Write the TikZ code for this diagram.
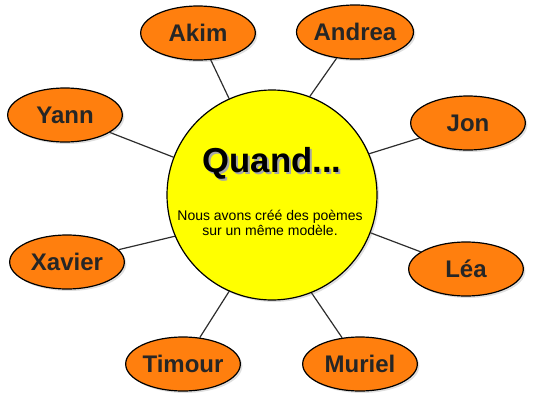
\documentclass[tikz,border=0pt]{standalone}
\usepackage{fontspec}
\setmainfont{Liberation Sans}
\usetikzlibrary{shapes.geometric,shadows,backgrounds}

\definecolor{nameorange}{RGB}{255,127,14}
\definecolor{quandyellow}{RGB}{255,255,0}
\definecolor{nametext}{RGB}{38,38,38}
\definecolor{linkgray}{RGB}{45,45,45}

\begin{document}
\begin{tikzpicture}[x=0.75pt,y=0.75pt,yscale=-1,xscale=1,
  namebox/.style={ellipse,draw=black,line width=0.9pt,fill=nameorange,
    minimum width=86pt,minimum height=40.5pt,inner sep=0pt,
    text=nametext,font=\fontsize{18}{20}\selectfont\bfseries,
    drop shadow={shadow xshift=1.5pt,shadow yshift=-1.5pt,opacity=0.25}},
  centrebox/.style={circle,draw=black,line width=0.9pt,fill=quandyellow,
    minimum size=157.5pt,inner sep=0pt,
    drop shadow={shadow xshift=1.5pt,shadow yshift=-1.5pt,opacity=0.25}},
  link/.style={draw=linkgray,line width=0.9pt}]
\useasboundingbox (0,0) rectangle (536,400);

% Centre
\node [centrebox] (quand) at (272,195) {};
\node [anchor=base,inner sep=0pt,font=\fontsize{26}{28}\selectfont\bfseries] (quandtitle) at (272,172)
  {\makebox[0pt][l]{\hspace{1.6pt}\raisebox{-1.6pt}{\color{black!35}Quand...}}Quand...};
\node [anchor=base,inner sep=0pt,align=center,font=\fontsize{10.5}{11.25}\selectfont] (quandtext) at (270,235)
  {Nous avons créé des poèmes\\sur un même modèle.};

% Names
\node [namebox] (akim) at (198,33) {Akim};
\node [namebox] (andrea) at (355,32) {Andrea};
\node [namebox] (yann) at (65,115) {Yann};
\node [namebox] (jon) at (468,123) {Jon};
\node [namebox] (xavier) at (67,262) {Xavier};
\node [namebox] (lea) at (466,269) {Léa};
\node [namebox] (timour) at (183,364) {Timour};
\node [namebox] (muriel) at (360,364) {Muriel};

% Links
\begin{scope}[on background layer]
\path [link] (akim) -- (quand.114);
\path [link] (andrea) -- (quand.69);
\path [link] (jon) -- (quand.23);
\path [link] (yann) -- (quand.159);
\path [link] (xavier) -- (quand.203);
\path [link] (lea) -- (quand.339);
\path [link] (timour) -- (quand.246);
\path [link] (muriel) -- (quand.292);
\end{scope}
\end{tikzpicture}
\end{document}
